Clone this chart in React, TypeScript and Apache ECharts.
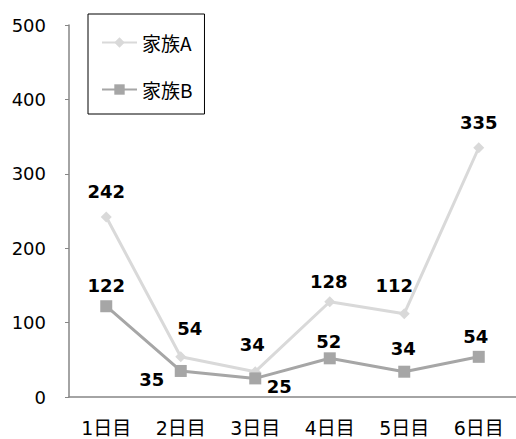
import React, { useEffect, useRef } from "react";
import * as echarts from "echarts";

const categories = ["1日目", "2日目", "3日目", "4日目", "5日目", "6日目"];
const seriesNames = ["家族A", "家族B"];
const valuesA = [242, 54, 34, 128, 112, 335];
const valuesB = [122, 35, 25, 52, 34, 54];
const yTicks = { min: 0, max: 500, interval: 100 };

// label offsets (style only): [dx, dy] from point centre
const offsetsA: [number, number][] = [[0, -25], [9, -28], [-3, -27], [-1, -20], [-10, -28], [0, -25]];
const offsetsB: [number, number][] = [[0, -21], [-29, 9], [24, 8], [-1, -17], [-1, -23], [-3, -20]];

const NUM_FONT = "'DejaVu Sans', 'Noto Sans CJK JP', sans-serif";

export default function App() {
  const ref = useRef<HTMLDivElement>(null);
  useEffect(() => {
    if (!ref.current) return;
    const chart = echarts.init(ref.current, undefined, { renderer: "svg" });
    const mk = (vals: number[], offs: [number, number][]) =>
      vals.map((v, i) => ({
        value: v,
        label: { offset: offs[i] },
      }));
    const labelStyle = {
      show: true,
      position: "inside",
      color: "#000",
      fontSize: 18,
      fontWeight: "bold",
      fontFamily: NUM_FONT,
    };
    chart.setOption({
      animation: false,
      backgroundColor: "#ffffff",
      grid: { left: 69, top: 25, right: -3, bottom: 42, containLabel: false },
      legend: {
        orient: "vertical",
        left: 88,
        top: 14,
        padding: [19, 12, 15, 13],
        itemGap: 28,
        itemWidth: 35,
        itemHeight: 13,
        borderColor: "#000000",
        borderWidth: 1,
        textStyle: { fontSize: 19, color: "#000", fontFamily: "'Noto Sans CJK JP', sans-serif" },
        data: seriesNames,
      },
      xAxis: {
        type: "category",
        data: categories,
        boundaryGap: true,
        axisLine: { lineStyle: { color: "#868686", width: 1.5 } },
        axisTick: { inside: true, length: 6, lineStyle: { color: "#868686" } },
        axisLabel: { color: "#000", fontSize: 19, margin: 21, fontFamily: NUM_FONT },
        splitLine: { show: false },
      },
      yAxis: {
        type: "value",
        min: yTicks.min,
        max: yTicks.max,
        interval: yTicks.interval,
        axisLine: { show: true, lineStyle: { color: "#868686", width: 1.5 } },
        axisTick: { show: true, length: 4, lineStyle: { color: "#868686" } },
        axisLabel: { color: "#000", fontSize: 18, margin: 23, fontFamily: NUM_FONT },
        splitLine: { show: false },
      },
      series: [
        {
          name: seriesNames[0],
          type: "line",
          data: mk(valuesA, offsetsA),
          symbol: "diamond",
          symbolSize: 11,
          color: "#d9d9d9",
          lineStyle: { color: "#d9d9d9", width: 3 },
          itemStyle: { color: "#d9d9d9" },
          label: labelStyle,
        },
        {
          name: seriesNames[1],
          type: "line",
          data: mk(valuesB, offsetsB),
          symbol: "rect",
          symbolSize: 12,
          color: "#a6a6a6",
          lineStyle: { color: "#a6a6a6", width: 3 },
          itemStyle: { color: "#a6a6a6" },
          label: labelStyle,
        },
      ],
    });
    return () => chart.dispose();
  }, []);
  return (
    <div
      ref={ref}
      style={{ position: "absolute", left: 0, top: 0, width: 516, height: 439 }}
    />
  );
}
